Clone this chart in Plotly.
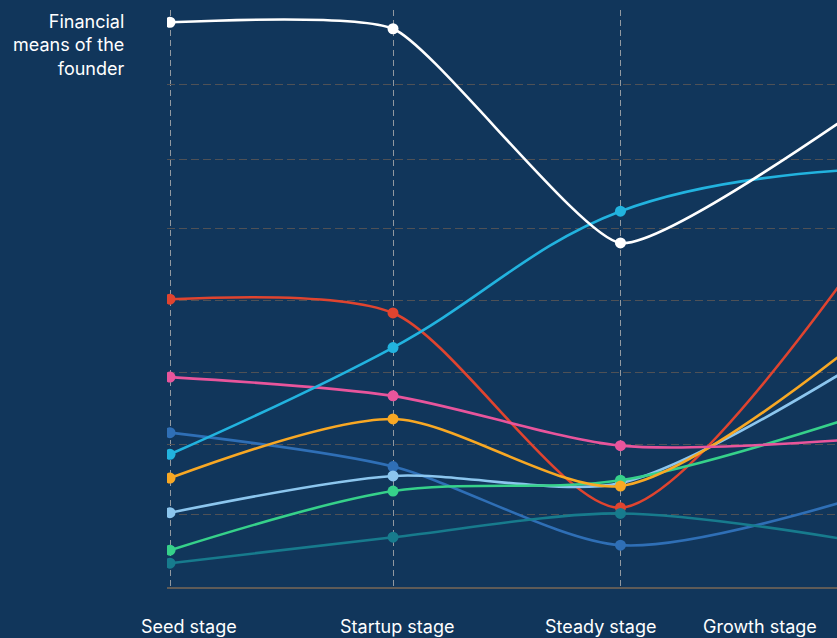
import plotly.graph_objects as go

stages = ["Seed stage", "Startup stage", "Steady stage", "Growth stage"]
stage_pos = [0, 1, 2.02, 3.03]

white = [7.83, 7.74, 4.77, 6.50]
cyan = [1.84, 3.32, 5.21, 5.78]
red = [3.99, 3.80, 1.10, 4.30]
pink = [2.91, 2.65, 1.96, 2.04]
orange = [1.51, 2.33, 1.40, 3.27]
blue = [2.14, 1.67, 0.58, 1.19]
light_blue = [1.03, 1.54, 1.44, 3.00]
green = [0.51, 1.33, 1.48, 2.32]
teal = [0.33, 0.69, 1.02, 0.66]

y_grid = [1.01, 1.97, 2.97, 3.97, 4.97, 5.93, 6.97, 7.995]

series = [
    ("Blue", blue, "#2f6fb6", 0.8),
    ("Red", red, "#e0442f", 0.75),
    ("Teal", teal, "#177b8d", 0.9),
    ("Light blue", light_blue, "#8cc6ee", 0.8),
    ("Green", green, "#36d18a", 0.9),
    ("Orange", orange, "#f8a824", 0.8),
    ("Pink", pink, "#e8559c", 0.8),
    ("Cyan", cyan, "#22b3df", 1.15),
    ("White", white, "#ffffff", 0.5),
]

fig = go.Figure()
for name, vals, col, sm in series:
    fig.add_trace(go.Scatter(
        x=stage_pos, y=vals, name=name, mode="lines+markers",
        line=dict(color=col, width=2.6, shape="spline", smoothing=sm),
        marker=dict(color=col, size=11),
        cliponaxis=True, showlegend=False, hoverinfo="skip",
    ))

bg = "#11365b"
fig.update_layout(
    width=837, height=638,
    margin=dict(l=167, r=0, t=10, b=51),
    paper_bgcolor=bg, plot_bgcolor=bg,
    font=dict(family="Inter, Roboto, sans-serif", color="white"),
    xaxis=dict(range=[-0.0135, 2.991], tickvals=stage_pos, showticklabels=False,
               showgrid=True, gridcolor="#9299a0", gridwidth=1.4, griddash="6px,4px",
               zeroline=False, showline=True, linecolor="#5f5b57", linewidth=1.5, ticks=""),
    yaxis=dict(range=[0, 8], tickvals=y_grid, showticklabels=False,
               showgrid=True, gridcolor="#4f5156", gridwidth=1.3, griddash="8px,4px",
               zeroline=False, showline=False, ticks=""),
)

label_x_px = [189, 397, 600, 760]
for txt, px in zip(stages, label_x_px):
    fig.add_annotation(text=txt, xref="paper", yref="paper",
                       x=(px - 167) / 670, y=(587 - 626) / 577,
                       xanchor="center", yanchor="middle", showarrow=False,
                       font=dict(size=18, color="white"))

fig.add_annotation(text="Financial<br>means of the<br>founder", xref="paper", yref="paper",
                   x=(127 - 167) / 670, y=1 + 1 / 577, xanchor="right", yanchor="top",
                   align="right", showarrow=False, font=dict(size=18, color="white"))

fig.write_html("out.html", config={"displayModeBar": False},
               post_script="document.body.style.margin='0';document.body.style.background='#11365b';")
